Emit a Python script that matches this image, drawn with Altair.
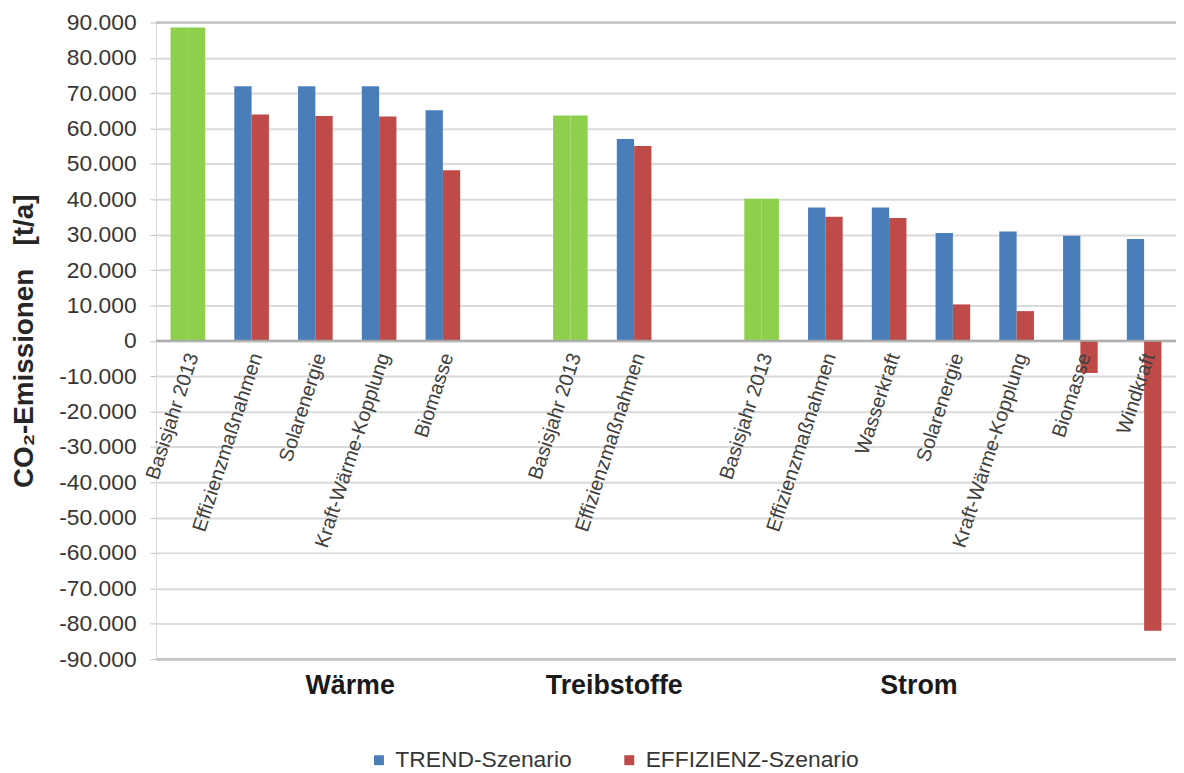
import altair as alt
import pandas as pd

# ---------------- data ----------------
group_names = ["Wärme", "Treibstoffe", "Strom"]
series_names = ["TREND-Szenario", "EFFIZIENZ-Szenario"]
base_name = "Basisjahr 2013"

waerme_categories = ["Basisjahr 2013", "Effizienzmaßnahmen", "Solarenergie",
                     "Kraft-Wärme-Kopplung", "Biomasse"]
waerme_trend = [88600, 72000, 72000, 72000, 65200]
waerme_effizienz = [88600, 64000, 63600, 63400, 48200]

treib_categories = ["Basisjahr 2013", "Effizienzmaßnahmen"]
treib_trend = [63700, 57100]
treib_effizienz = [63700, 55100]

strom_categories = ["Basisjahr 2013", "Effizienzmaßnahmen", "Wasserkraft",
                    "Solarenergie", "Kraft-Wärme-Kopplung", "Biomasse", "Windkraft"]
strom_trend = [40200, 37700, 37700, 30500, 30900, 29700, 28800]
strom_effizienz = [40200, 35100, 34700, 10300, 8400, -9100, -82000]

y_ticks = list(range(-90000, 90001, 10000))

# ---------------- tables ----------------
blocks = [
    ("W", waerme_categories, waerme_trend, waerme_effizienz),
    ("T", treib_categories, treib_trend, treib_effizienz),
    ("S", strom_categories, strom_trend, strom_effizienz),
]
keys, bar_rows, label_rows = [], [], []
for bi, (prefix, cats, tr, ef) in enumerate(blocks):
    if bi > 0:
        keys.append(f"gap{bi}")
    for i, c in enumerate(cats):
        k = f"{prefix}{i}"
        keys.append(k)
        label_rows.append({"key": k, "label": c})
        for s, v in zip(series_names, (tr[i], ef[i])):
            bar_rows.append({"key": k, "series": s, "value": v,
                             "colour": base_name if c == base_name else s})
bars_df = pd.DataFrame(bar_rows)
labels_df = pd.DataFrame(label_rows)

# group label anchors (category key) and fine shifts (style)
group_anchor = ["W2", "T1", "S2"]
group_dx = [35, -20, 30]

FONT = "Liberation Sans"
x_scale = alt.Scale(domain=keys, paddingInner=0.457, paddingOuter=0.2285)
y_scale = alt.Scale(domain=[-90000, 90000], nice=False, zero=False)

y_axis = alt.Axis(values=y_ticks, title="CO₂-Emissionen\u00a0\u00a0\u00a0[t/a]",
                  labelExpr="(datum.value < 0 ? '-' : '') + replace(format(abs(datum.value), ','), ',', '.')",
                  labelFontSize=23, labelColor="#363636", labelFont=FONT,
                  labelOverlap=False, labelSeparation=0, labelPadding=14,
                  tickSize=6, tickColor="#bfbfbf",
                  domain=True, domainColor="#d9d9d9", domainWidth=1,
                  grid=True, gridColor="#dadada", gridWidth=2,
                  titleFont=FONT, titleFontSize=28, titleFontWeight="bold",
                  titleColor="#262626", titlePadding=20)

bars = alt.Chart(bars_df).mark_bar().encode(
    x=alt.X("key:N", scale=x_scale, axis=None, sort=keys),
    xOffset=alt.XOffset("series:N", scale=alt.Scale(domain=series_names, paddingInner=0, paddingOuter=0)),
    y=alt.Y("value:Q", scale=y_scale, axis=y_axis),
    color=alt.Color("colour:N",
                    scale=alt.Scale(domain=series_names + [base_name],
                                    range=["#4A7EBB", "#BE4B48", "#8ED04B"]),
                    legend=alt.Legend(values=series_names, title=None, orient="none",
                                      direction="horizontal", legendX=213, legendY=731,
                                      symbolType="square", symbolSize=100,
                                      labelFontSize=23, labelFont=FONT, labelColor="#363636",
                                      labelLimit=0,
                                      columnPadding=46, labelOffset=5, padding=0)),
)

zero_rule = alt.Chart(pd.DataFrame({"v": [0]})).mark_rule(color="#a8a8a8", strokeWidth=2).encode(
    y=alt.Y("v:Q", scale=y_scale, axis=y_axis))
edge_rules = alt.Chart(pd.DataFrame({"v": [90000, -90000]})).mark_rule(color="#c4c4c4", strokeWidth=2.5).encode(
    y=alt.Y("v:Q", scale=y_scale, axis=y_axis))

cat_labels = alt.Chart(labels_df).mark_text(
    angle=288, align="right", baseline="middle", dx=-11, dy=9,
    font=FONT, fontSize=20, color="#404040").encode(
    x=alt.X("key:N", scale=x_scale, axis=None, sort=keys),
    y=alt.YDatum(0, scale=y_scale, axis=y_axis),
    text="label:N")

layers = [bars, edge_rules, zero_rule, cat_labels]
for name, anchor, dx in zip(group_names, group_anchor, group_dx):
    layers.append(
        alt.Chart(pd.DataFrame({"key": [anchor], "name": [name]})).mark_text(
            dx=dx, dy=27, align="center", baseline="middle",
            font=FONT, fontSize=27, fontWeight="bold", color="#1a1a1a").encode(
            x=alt.X("key:N", scale=x_scale, axis=None, sort=keys),
            y=alt.YDatum(-90000, scale=y_scale, axis=y_axis),
            text="name:N"))

chart = alt.layer(*layers).properties(
    width=1027, height=641,
    autosize=alt.AutoSizeParams(type="none"),
    padding={"left": 149, "top": 12, "right": 0, "bottom": 110},
    background="white",
).configure_view(stroke=None).configure_axisY(labelOverlap=False)

chart.save("out.html", embed_options={"renderer": "svg", "actions": False})
